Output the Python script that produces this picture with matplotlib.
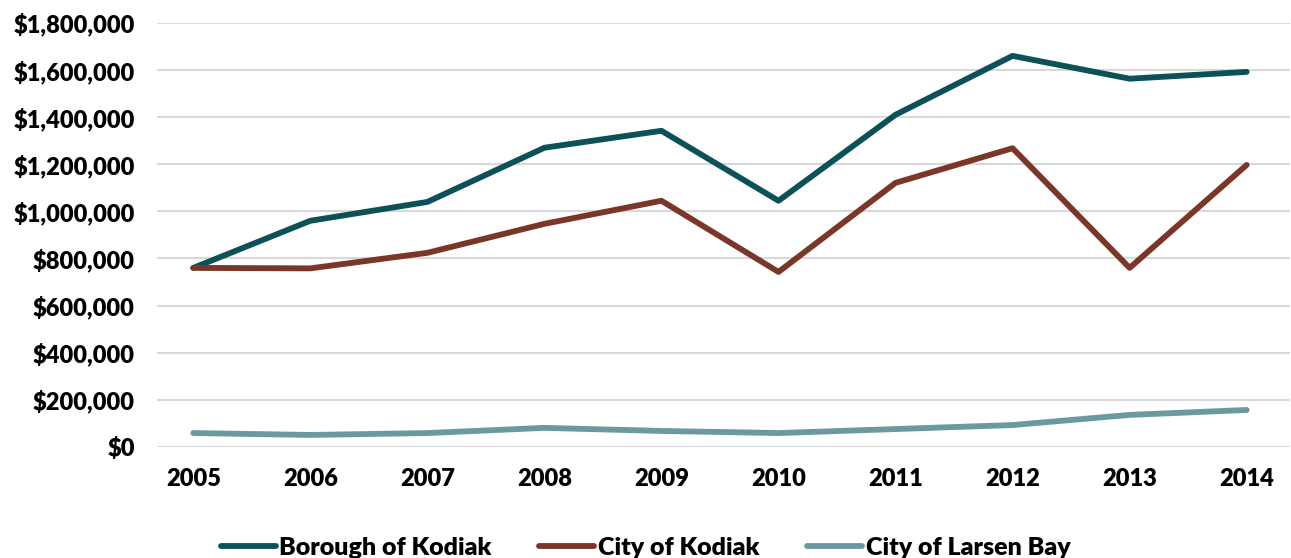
import matplotlib
matplotlib.use("Agg")
import matplotlib.pyplot as plt
from matplotlib.ticker import FuncFormatter

years = [2005, 2006, 2007, 2008, 2009, 2010, 2011, 2012, 2013, 2014]
borough = [760000, 960000, 1040000, 1270000, 1342000, 1045000, 1410000, 1660000, 1563000, 1592000]
city_kodiak = [760000, 758000, 824000, 947000, 1045000, 743000, 1121000, 1268000, 760000, 1197000]
larsen_bay = [59000, 51000, 59000, 81000, 68000, 59000, 76000, 93000, 136000, 157000]

series_names = ["Borough of Kodiak", "City of Kodiak", "City of Larsen Bay"]
colors = ["#0d5158", "#7a3626", "#6b9a9e"]

plt.rcParams['font.family'] = ['Lato', 'DejaVu Sans']
plt.rcParams['font.weight'] = 'bold'

fig = plt.figure(figsize=(12.91, 5.58), dpi=100)
ax = fig.add_axes([0.1216, 0.199, 0.8776, 0.760])

for vals, name, c in zip([borough, city_kodiak, larsen_bay], series_names, colors):
    ax.plot(years, vals, color=c, lw=4.2, label=name, solid_capstyle='round')

ax.set_ylim(0, 1800000)
ax.set_yticks(range(0, 1800001, 200000))
ax.yaxis.set_major_formatter(FuncFormatter(lambda v, p: "${:,.0f}".format(v)))
ax.set_xlim(2004.69, 2014.37)
ax.set_xticks(years)
ax.grid(axis='y', color='#d9d9d9', lw=1.5)
ax.set_axisbelow(True)
for s in ax.spines.values():
    s.set_visible(False)
ax.tick_params(length=0, labelsize=17, colors='black')
ax.tick_params(axis='x', pad=15)
ax.tick_params(axis='y', pad=16)
for lab in ax.get_xticklabels() + ax.get_yticklabels():
    lab.set_fontweight('heavy')

fig.legend(loc='center', bbox_to_anchor=(0.5, 0.018), ncol=3, frameon=False,
           prop={'size': 18, 'weight': 'heavy'}, handlelength=2.2, handletextpad=0.15,
           columnspacing=1.9)

fig.savefig("out.png", dpi=100)
